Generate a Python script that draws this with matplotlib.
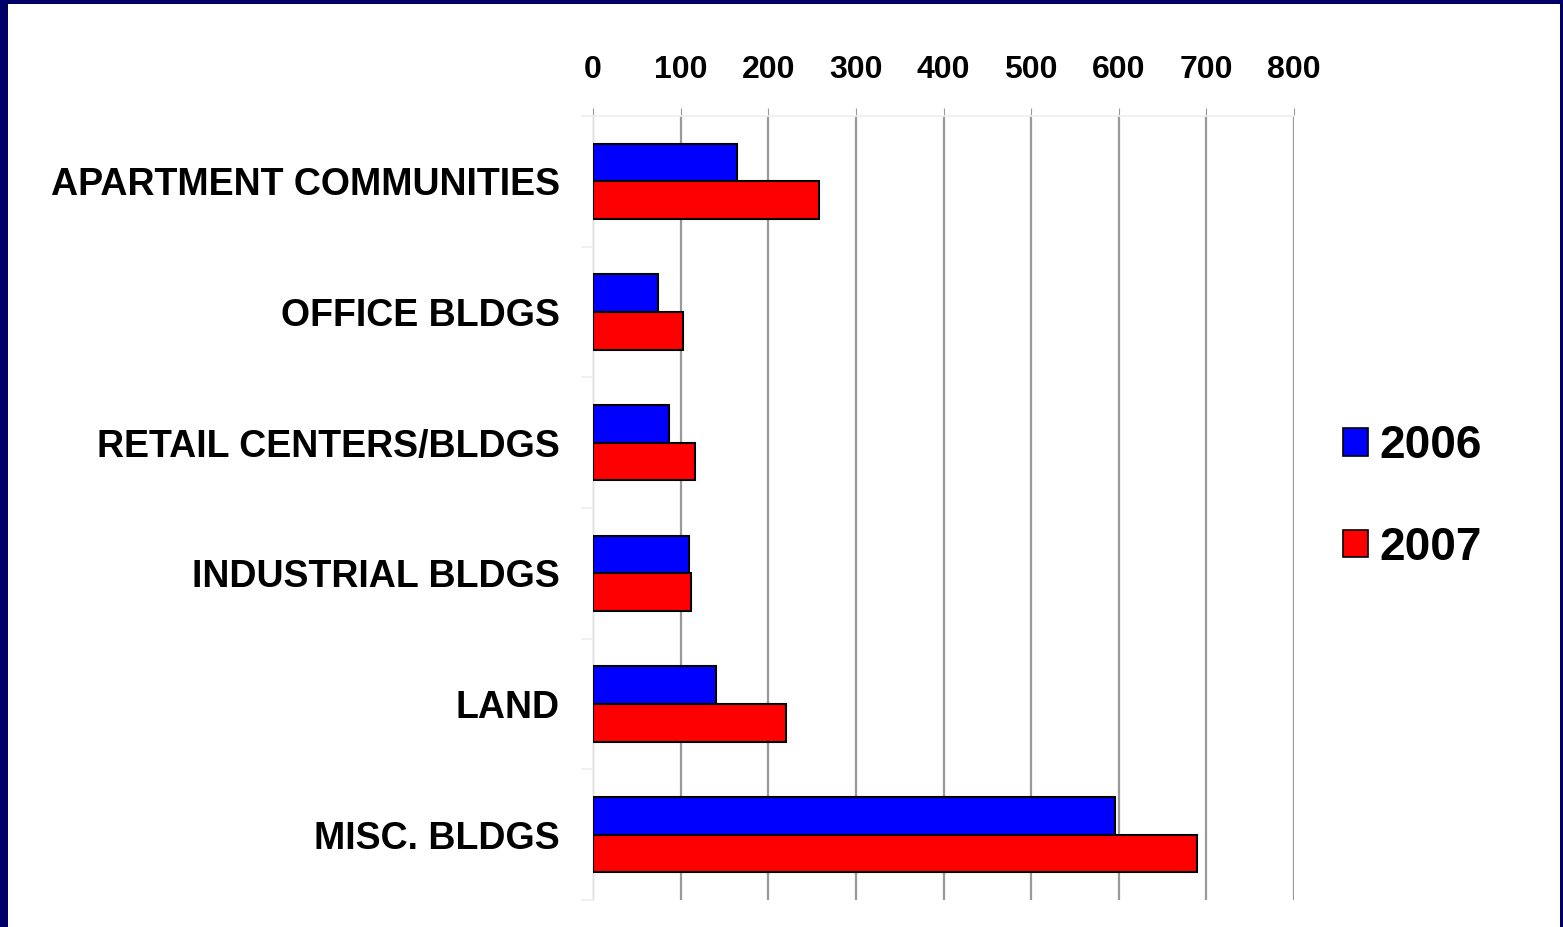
import numpy as np
import matplotlib.pyplot as plt
from matplotlib.patches import Rectangle, Patch

categories = ["APARTMENT COMMUNITIES", "OFFICE BLDGS", "RETAIL CENTERS/BLDGS",
              "INDUSTRIAL BLDGS", "LAND", "MISC. BLDGS"]
values_2006 = [164, 74, 87, 109, 140, 596]
values_2007 = [258, 103, 116, 112, 220, 689]
series_labels = ["2006", "2007"]
x_ticks = [0, 100, 200, 300, 400, 500, 600, 700, 800]

plt.rcParams["font.family"] = ["Liberation Sans", "DejaVu Sans"]
plt.rcParams["font.weight"] = "bold"

NAVY = "#000066"
BLUE = "#0000FF"
RED = "#FF0000"

fig = plt.figure(figsize=(15.63, 9.27), dpi=100)
fig.patch.set_facecolor(NAVY)
# white slide area inside the navy frame
fig.patches.append(Rectangle((8 / 1563, 0), (1560 - 8) / 1563, 1 - 4 / 927,
                             transform=fig.transFigure, facecolor="white",
                             edgecolor="none", zorder=-10))

ax = fig.add_axes([593 / 1563, 1 - 900 / 927, (1294 - 593) / 1563, (900 - 116) / 927])
ax.set_facecolor("none")

y = np.arange(len(categories))
h = 0.287
ax.barh(y - h / 2, values_2006, height=h, color=BLUE, edgecolor="black",
        linewidth=1.5, label=series_labels[0], zorder=3)
ax.barh(y + h / 2, values_2007, height=h, color=RED, edgecolor="black",
        linewidth=1.5, label=series_labels[1], zorder=3)

ax.set_xlim(0, 800)
ax.set_ylim(len(categories) - 0.5, -0.5)
ax.set_xticks(x_ticks)
ax.xaxis.tick_top()
ax.tick_params(axis="x", length=6, color="#999999", pad=16, labelsize=23)
ax.set_yticks(y)
ax.set_yticklabels(categories)
ax.set_yticks(np.arange(len(categories) + 1) - 0.5, minor=True)
ax.tick_params(axis="y", which="major", length=0, pad=24, labelsize=27)
ax.tick_params(axis="y", which="minor", length=9, color="#eeeeee", width=1.2)
for lab in ax.get_xticklabels() + ax.get_yticklabels():
    lab.set_fontweight("bold")

ax.grid(axis="x", color="#999999", linewidth=1.6, zorder=0)
for side in ("right", "bottom"):
    ax.spines[side].set_visible(False)
for side in ("left", "top"):
    ax.spines[side].set_color("#eeeeee")
    ax.spines[side].set_linewidth(1.2)

handles = [Patch(facecolor=BLUE, edgecolor="black", linewidth=1.2),
           Patch(facecolor=RED, edgecolor="black", linewidth=1.2)]
leg = fig.legend(handles, series_labels, loc="center left",
                 bbox_to_anchor=(1343 / 1563, 1 - 497 / 927), frameon=False,
                 borderpad=0, borderaxespad=0, handlelength=0.55, handleheight=0.55,
                 handletextpad=0.25, labelspacing=1.25,
                 prop={"size": 33, "weight": "bold"})

fig.savefig("out.png", dpi=100, facecolor=fig.get_facecolor())
